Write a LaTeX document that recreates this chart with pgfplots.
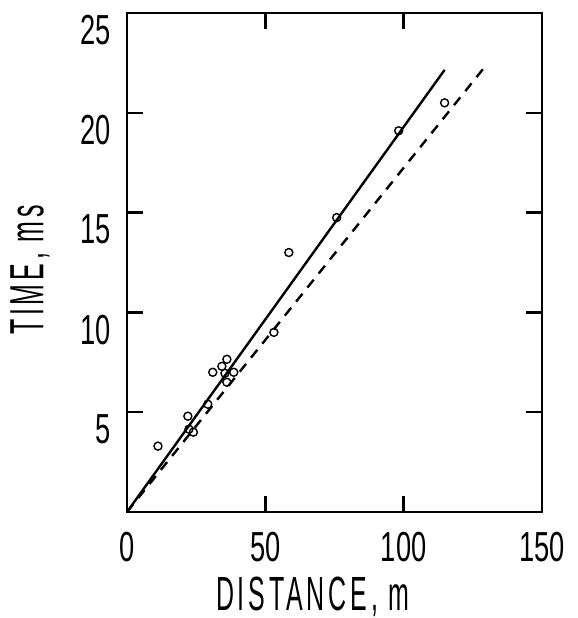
\documentclass[border=0pt]{standalone}
\usepackage{fontspec}
\setmainfont{Liberation Sans}[FakeStretch=0.65]
\newfontfamily\labfont{Liberation Sans}[FakeStretch=0.52, LetterSpace=8]
\usepackage{pgfplots}
\pgfplotsset{compat=1.18}

\begin{document}
\begin{tikzpicture}
\begin{axis}[
  scale only axis,
  width=207.5pt, height=249.5pt,
  xmin=0, xmax=150, ymin=0, ymax=25,
  xtick={0,50,100,150},
  xticklabels={{0\hspace{10pt}},50,100,150},
  ytick={5,10,15,20,25},
  tick align=inside,
  major tick length=8pt,
  axis line style={line width=1.2pt},
  every tick/.style={black, line width=1.2pt},
  /pgf/number format/assume math mode=true,
  ticklabel style={font=\fontsize{21}{21}\selectfont},
  xticklabel style={anchor=north, inner sep=0pt, yshift=-10pt},
  yticklabel style={anchor=north east, inner sep=0pt, xshift=-8pt, yshift=-1pt},
  xlabel={DISTANCE, m},
  ylabel={TIME, ms},
  every axis x label/.style={at={(axis description cs:0.448,-0.170)}, anchor=center,
    font=\labfont\fontsize{24}{24}\selectfont},
  every axis y label/.style={at={(axis description cs:-0.234,0.485)}, anchor=center, rotate=90,
    font=\labfont\fontsize{24}{24}\selectfont},
]
% measured points
\addplot[only marks, mark=o, mark size=2pt, mark options={line width=0.7pt}]
  coordinates {
    (11.2,3.3) (22.0,4.8) (22.4,4.15) (24.0,4.0) (29.2,5.4)
    (31.0,7.0) (34.3,7.3) (35.4,6.95) (36.1,7.65) (36.1,6.5)
    (38.6,7.0) (53.1,9.0) (58.5,13.0) (75.8,14.75) (98.2,19.1)
    (114.8,20.5)};
% fitted line
\addplot[black, line width=1.2pt] coordinates {(0,0) (114.8,22.15)};
% reference line
\addplot[black, line width=1.2pt, dash pattern=on 5pt off 4pt]
  coordinates {(0,0) (129.6,22.35)};
\end{axis}
\pgfresetboundingbox
\useasboundingbox (-63.5pt,-53pt) rectangle (225.5pt,256pt);
\end{tikzpicture}
\end{document}
